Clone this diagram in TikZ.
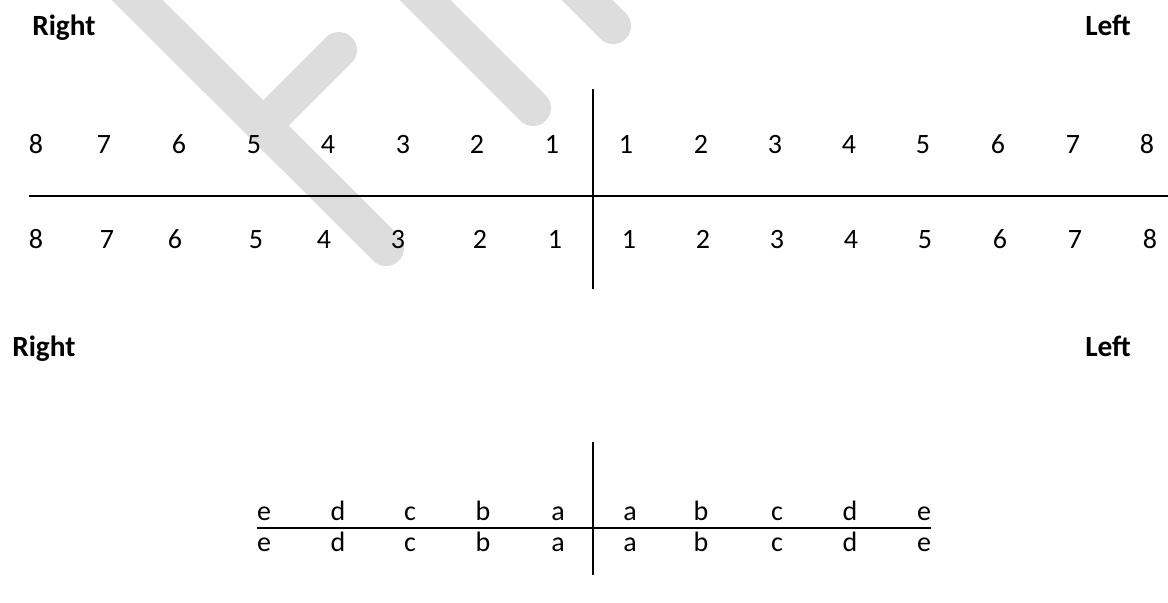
\documentclass[tikz,border=0pt]{standalone}
\usepackage{fontspec}
\setmainfont{Carlito}
\usepackage{xcolor}
\definecolor{inkblack}{HTML}{000000}
\definecolor{markgrey}{HTML}{DDDDDD}
\tikzset{
  quadrant/.style={line width=1.9pt, color=inkblack},
  tooth/.style={anchor=base, inner sep=0pt, font=\fontsize{21}{25}\selectfont},
  side/.style={anchor=base west, inner sep=0pt, font=\fontsize{22}{26}\selectfont\bfseries},
  stamp/.style={line width=27pt, line cap=round, color=markgrey}
}

\begin{document}
\begin{tikzpicture}[x=0.75pt, y=-0.75pt]
\useasboundingbox (0,0) rectangle (1168,603);
% faint mark behind the charts
\begin{scope}
\clip (0,0) rectangle (1168,603);
\draw[stamp] (77,-60) -- (386,248);
\draw[stamp] (263,126) -- (339,50);
\draw[stamp] (365,-60) -- (533,108);
\draw[stamp] (527,-60) -- (613,26);
\end{scope}

% permanent teeth
\node[side] (rightA) at (32,36) {Right};
\node[side] (leftA) at (1085,36) {Left};
\coordinate (permN) at (593,89);
\coordinate (permS) at (593,289);
\coordinate (permW) at (29,196);
\coordinate (permE) at (1168,196);
\draw[quadrant] (permW) -- (permE);
\draw[quadrant] (permN) -- (permS);
\foreach \x [count=\i] in {552,477,403,328,254,179,104,36}
  \node[tooth] (ur\i) at (\x,153) {\i};
\foreach \x [count=\i] in {626,701,775,849,923,998,1073,1147}
  \node[tooth] (ul\i) at (\x,153) {\i};
\foreach \x [count=\i] in {555,480,398,324,256,175,107,36}
  \node[tooth] (lr\i) at (\x,248) {\i};
\foreach \x [count=\i] in {629,703,777,851,925,1000,1075,1150}
  \node[tooth] (ll\i) at (\x,248) {\i};

% deciduous teeth
\node[side] (rightB) at (12,356) {Right};
\node[side] (leftB) at (1085,356) {Left};
\coordinate (milkN) at (593,442);
\coordinate (milkS) at (593,575);
\coordinate (milkW) at (257,528);
\coordinate (milkE) at (931,528);
\draw[quadrant] (milkW) -- (milkE);
\draw[quadrant] (milkN) -- (milkS);
\foreach \l/\x in {a/558,b/483,c/410,d/338,e/264} {
  \node[tooth] (mur\l) at (\x,520) {\l};
  \node[tooth] (mlr\l) at (\x,551) {\l};
}
\foreach \l/\x in {a/630,b/701,c/777,d/850,e/924} {
  \node[tooth] (mul\l) at (\x,520) {\l};
  \node[tooth] (mll\l) at (\x,551) {\l};
}
\end{tikzpicture}
\end{document}
